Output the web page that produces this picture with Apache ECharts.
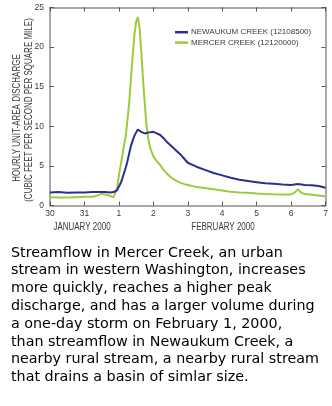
<!DOCTYPE html>
<html>
<head>
<meta charset="utf-8">
<script src="https://cdn.jsdelivr.net/npm/echarts@6/dist/echarts.min.js"></script>
<style>
html,body{margin:0;padding:0;background:#fff;}
#chart{width:332px;height:406px;}
</style>
</head>
<body>
<div id="chart"></div>
<script>
// Days since 30 January 2000, 00:00
var days = [0, 0.25, 0.5, 0.75, 1.0, 1.25, 1.4, 1.5, 1.6, 1.75, 1.85, 1.9, 1.95, 2.0, 2.05, 2.1, 2.15, 2.2, 2.25, 2.3, 2.35, 2.4, 2.45, 2.5, 2.55, 2.6, 2.65, 2.7, 2.75, 2.8, 2.85, 2.9, 3.0, 3.1, 3.2, 3.3, 3.4, 3.5, 3.6, 3.7, 3.8, 3.9, 4.0, 4.25, 4.5, 4.75, 5.0, 5.25, 5.5, 5.75, 6.0, 6.25, 6.5, 6.75, 7.0, 7.1, 7.2, 7.3, 7.4, 7.6, 7.8, 8.0];
var mercer = [1.05, 1.0, 1.0, 1.05, 1.1, 1.1, 1.3, 1.5, 1.4, 1.2, 1.05, 1.0, 2.2, 3.8, 5.0, 6.3, 7.6, 8.8, 10.8, 13.0, 16.0, 18.8, 21.5, 23.2, 23.8, 22.5, 19.5, 16.0, 13.0, 10.2, 8.5, 7.4, 6.2, 5.6, 5.1, 4.5, 4.0, 3.6, 3.3, 3.05, 2.85, 2.7, 2.6, 2.35, 2.2, 2.05, 1.9, 1.75, 1.65, 1.6, 1.5, 1.45, 1.42, 1.4, 1.4, 1.6, 2.05, 1.6, 1.45, 1.35, 1.25, 1.15];
var newaukum = [1.65, 1.7, 1.62, 1.65, 1.65, 1.7, 1.7, 1.72, 1.7, 1.65, 1.7, 1.78, 1.95, 2.2, 2.8, 3.4, 4.1, 4.8, 5.6, 6.6, 7.5, 8.2, 8.8, 9.2, 9.6, 9.5, 9.3, 9.2, 9.1, 9.2, 9.2, 9.25, 9.3, 9.1, 8.9, 8.5, 8.0, 7.6, 7.2, 6.8, 6.4, 5.9, 5.4, 4.9, 4.5, 4.1, 3.8, 3.5, 3.25, 3.1, 2.95, 2.8, 2.75, 2.65, 2.6, 2.65, 2.7, 2.65, 2.6, 2.55, 2.45, 2.25];
var xTickLabels = ['30', '31', '1', '2', '3', '4', '5', '6', '7'];
var monthLabels = ['JANUARY 2000', 'FEBRUARY 2000'];
var seriesNames = ['NEWAUKUM CREEK (12108500)', 'MERCER CREEK (12120000)'];
var yTitle = ['HOURLY UNIT-AREA DISCHARGE', '(CUBIC FEET PER SECOND PER SQUARE MILE)'];
var caption = [
  'Streamflow in Mercer Creek, an urban',
  'stream in western Washington, increases',
  'more quickly, reaches a higher peak',
  'discharge, and has a larger volume during',
  'a one-day storm on February 1, 2000,',
  'than streamflow in Newaukum Creek, a',
  'nearby rural stream, a nearby rural stream',
  'that drains a basin of simlar size.'
];

var SANS = '"Liberation Sans", Arial, sans-serif';
var AX = '#8c8c8c';
var TXT = '#3a3a3a';

function pairs(xs, ys) { return xs.map(function (x, i) { return [x, ys[i]]; }); }

var axisCommon = {
  axisLine: { show: true, onZero: false, lineStyle: { color: AX, width: 1.5 } },
  axisTick: { show: true, inside: true, length: 4, lineStyle: { color: '#555', width: 1 } },
  splitLine: { show: false }
};

var chart = echarts.init(document.getElementById('chart'), null, { renderer: 'canvas' });
chart.setOption({
  backgroundColor: '#ffffff',
  animation: false,
  grid: { left: 50, right: 6.5, top: 7.5, bottom: 200.5, containLabel: false },
  legend: {
    data: seriesNames,
    orient: 'vertical',
    left: 175,
    top: 27,
    padding: 0,
    itemWidth: 13,
    itemHeight: 2.5,
    itemGap: 0,
    icon: 'rect',
    textStyle: { fontFamily: SANS, fontSize: 8, color: TXT, lineHeight: 10.4, padding: [0, 0, 0, -2] }
  },
  xAxis: [
    Object.assign({}, axisCommon, {
      type: 'value', position: 'bottom', min: 0, max: 8, interval: 1,
      axisLabel: {
        margin: 4, fontFamily: SANS, fontSize: 8.5, color: TXT,
        formatter: function (v) { return xTickLabels[Math.round(v)]; }
      }
    }),
    Object.assign({}, axisCommon, {
      type: 'value', position: 'top', min: 0, max: 8, interval: 1,
      axisLabel: { show: false }
    })
  ],
  yAxis: [
    Object.assign({}, axisCommon, {
      type: 'value', position: 'left', min: 0, max: 25, interval: 5,
      axisLabel: { margin: 6, fontFamily: SANS, fontSize: 8.5, color: TXT }
    }),
    Object.assign({}, axisCommon, {
      type: 'value', position: 'right', min: 0, max: 25, interval: 5,
      axisLabel: { show: false }
    })
  ],
  series: [
    {
      name: seriesNames[0], type: 'line', xAxisIndex: 0, yAxisIndex: 0,
      data: pairs(days, newaukum), showSymbol: false, symbol: 'none',
      lineStyle: { color: '#2b2f8f', width: 2 }, itemStyle: { color: '#2b2f8f' }, z: 3
    },
    {
      name: seriesNames[1], type: 'line', xAxisIndex: 0, yAxisIndex: 0,
      data: pairs(days, mercer), showSymbol: false, symbol: 'none',
      lineStyle: { color: '#9ccc3c', width: 2 }, itemStyle: { color: '#9ccc3c' }, z: 2
    }
  ],
  graphic: [
    {
      type: 'text', x: 17, y: 118, rotation: Math.PI / 2, scaleX: 0.8,
      style: { text: yTitle[0], font: '10px ' + SANS, fill: TXT, align: 'center', verticalAlign: 'middle' }
    },
    {
      type: 'text', x: 29.5, y: 110, rotation: Math.PI / 2, scaleX: 0.8,
      style: { text: yTitle[1], font: '10px ' + SANS, fill: TXT, align: 'center', verticalAlign: 'middle' }
    },
    {
      type: 'text', x: 82, y: 227, scaleX: 0.8,
      style: { text: monthLabels[0], font: '10px ' + SANS, fill: TXT, align: 'center', verticalAlign: 'middle' }
    },
    {
      type: 'text', x: 223, y: 227, scaleX: 0.8,
      style: { text: monthLabels[1], font: '10px ' + SANS, fill: TXT, align: 'center', verticalAlign: 'middle' }
    },
    {
      type: 'text', left: 11, top: 244,
      style: { text: caption.join('\n'), font: '14.3px "DejaVu Sans", Verdana, sans-serif', fill: '#000', lineHeight: 17.8 }
    }
  ]
});
</script>
</body>
</html>
